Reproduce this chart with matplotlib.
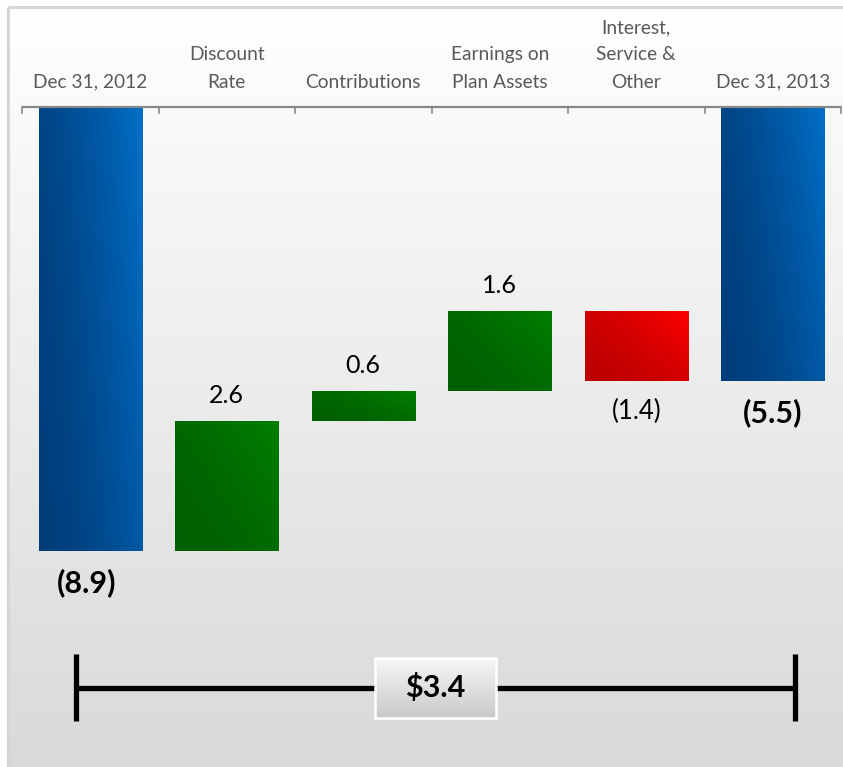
import numpy as np
import matplotlib
matplotlib.use("Agg")
import matplotlib.pyplot as plt
from matplotlib.colors import LinearSegmentedColormap, to_rgb
from matplotlib.patches import Rectangle

plt.rcParams["font.family"] = ["Lato", "DejaVu Sans"]

# Pension funded status bridge, $ billions
categories = ["Dec 31, 2012", "Discount\nRate", "Contributions",
              "Earnings on\nPlan Assets", "Interest,\nService &\nOther", "Dec 31, 2013"]
start_value = -8.9
changes = [2.6, 0.6, 1.6, -1.4]
end_value = -5.5

W, H = 843, 767
fig = plt.figure(figsize=(W / 100, H / 100), dpi=100)

# background panel: white to light-grey vertical fade with a thin grey frame
bg = fig.add_axes([0, 0, 1, 1])
bg.set_xlim(0, W)
bg.set_ylim(H, 0)
bg.axis("off")
fade = LinearSegmentedColormap.from_list("fade", ["#ffffff", "#d9d9d9"])
bg.imshow(np.linspace(0, 1, 256).reshape(-1, 1), cmap=fade, aspect="auto",
          extent=(9, W + 5, H + 5, 8), zorder=0)
bg.add_patch(Rectangle((8, 7), W, H, fill=False, ec="#d6d6d6", lw=2.2, zorder=1))

# chart axes share the full figure; 1 unit = one category across, 0 = top line
ax = fig.add_axes([0, 0, 1, 1])
ax.patch.set_alpha(0)
ax.axis("off")
step, unit, x0, y0 = 136.5, 49.9, 22, 107
xlim = (-0.5 - x0 / step, -0.5 + (W - x0) / step)
ylim = (-(H - y0) / unit, y0 / unit)

def gradient_bar(x, bottom, top, dark, light, width=0.755, tilt=0.3):
    # diagonal shade: dark towards lower-left, light towards upper-right
    n = 200
    u = np.linspace(0, 1, n)[None, :]
    v = np.linspace(1, 0, n)[:, None]
    t = np.clip((1 - tilt) * u + tilt * v, 0, 1)
    t = t ** 1.6
    c0, c1 = np.array(to_rgb(dark)), np.array(to_rgb(light))
    rgb = c0 + (c1 - c0) * t[..., None]
    ax.imshow(rgb, aspect="auto", interpolation="nearest",
              extent=(x - width / 2, x + width / 2, bottom, top), zorder=3)

blue = ("#003d7a", "#0070c8")
green = ("#005f00", "#008000")
red = ("#bc0000", "#ff0000")

# start bar
gradient_bar(0, start_value, 0, *blue)
ax.text(-0.03, start_value - 0.64, f"({abs(start_value):.1f})", ha="center", va="center",
        fontsize=22, fontweight="bold", color="black")

level = start_value
for i, d in enumerate(changes, start=1):
    lo, hi = sorted([level, level + d])
    colors = green if d > 0 else red
    gradient_bar(i, lo, hi, *colors, tilt=0.45)
    if d > 0:
        ax.text(i, hi + 0.52, f"{d:.1f}", ha="center", va="center", fontsize=18)
    else:
        ax.text(i, lo - 0.6, f"({abs(d):.1f})", ha="center", va="center", fontsize=18.5)
    level += d

# end bar
n = len(categories) - 1
gradient_bar(n, end_value, 0, *blue)
ax.text(n, end_value - 0.62, f"({abs(end_value):.1f})", ha="center", va="center",
        fontsize=22, fontweight="bold", color="black")

# category axis along the top with short downward ticks
ax.plot([-0.5, n + 0.5], [0, 0], color="#878787", lw=1.6, zorder=4, solid_capstyle="butt")
for b in np.arange(-0.5, n + 1):
    ax.plot([b, b], [0, -0.12], color="#878787", lw=1.2, zorder=4)
for i, lab in enumerate(categories):
    ax.text(i, 0.33, lab, ha="center", va="bottom", fontsize=13.8, color="#595959",
            linespacing=1.72)

# change bracket between the two year-end balances
yb = -11.64
xl, xr = -0.104, 5.163
ax.plot([xl, xr], [yb, yb], color="black", lw=3.8, zorder=5, solid_capstyle="butt")
for xe in (xl, xr):
    ax.plot([xe, xe], [yb - 0.67, yb + 0.67], color="black", lw=3.8, zorder=5,
            solid_capstyle="butt")
xm = (xl + xr) / 2
bw, bh = 0.885, 1.2
boxfade = LinearSegmentedColormap.from_list("box", ["#f7f7f7", "#c9c9c9"])
ax.imshow(np.linspace(0, 1, 64).reshape(-1, 1), cmap=boxfade, aspect="auto",
          extent=(xm - bw / 2, xm + bw / 2, yb - bh / 2, yb + bh / 2), zorder=6)
ax.add_patch(Rectangle((xm - bw / 2, yb - bh / 2), bw, bh, fill=False,
                       ec="white", lw=1.8, zorder=7))
ax.text(xm, yb, f"${end_value - start_value:.1f}", ha="center", va="center",
        fontsize=22, fontweight="bold", color="black", zorder=8)

ax.set_xlim(*xlim)
ax.set_ylim(*ylim)

fig.savefig("out.png", dpi=100)
